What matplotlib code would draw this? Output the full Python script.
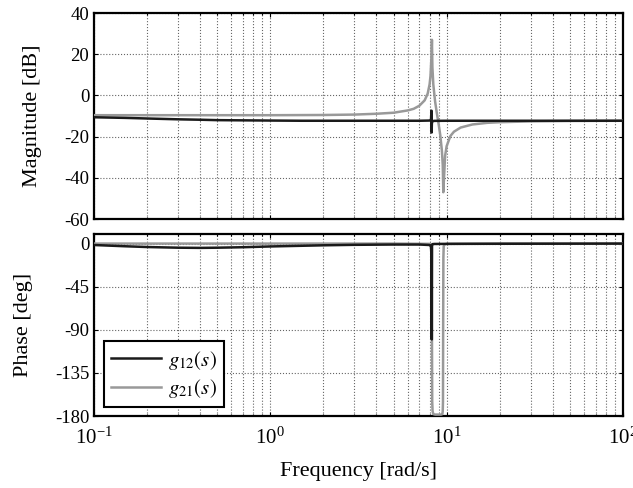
import matplotlib
matplotlib.use("Agg")
import matplotlib.pyplot as plt

# ---- data ----
# g12(s): magnitude [dB] and phase [deg]
g12_freq = [0.1, 0.15, 0.2, 0.3, 0.4, 0.5, 0.7, 1.0, 1.5, 2.0, 3.0, 5.0, 7.0, 8.0,
            8.15, 8.2, 8.22, 8.24, 8.26, 8.3, 8.5, 10.0, 20.0, 50.0, 100.0]
g12_mag = [-10.6, -10.9, -11.2, -11.6, -11.8, -12.0, -12.1, -12.2, -12.3, -12.3, -12.3,
           -12.3, -12.3, -12.2, -11.8, -7.4, -18.0, -14.0, -12.8, -12.5, -12.35,
           -12.3, -12.3, -12.3, -12.3]
g12_phase = [-1.5, -2.8, -3.6, -4.3, -4.5, -4.3, -3.8, -3.0, -2.3, -1.8, -1.3, -1.0,
             -1.0, -1.5, -3.0, -12.0, -100.0, -100.0, -1.0, -0.6, -0.4, -0.3, -0.2,
             -0.1, 0.0]

# g21(s): magnitude [dB] and phase [deg]
g21_freq = [0.1, 0.5, 1.0, 2.0, 3.0, 4.0, 5.0, 6.0, 6.5, 7.0, 7.5, 7.8, 8.0, 8.1,
            8.2, 8.25, 8.3, 8.4, 8.6, 8.8, 9.0, 9.2, 9.4, 9.5, 9.57, 9.65, 9.8,
            10.0, 10.5, 11.0, 12.0, 14.0, 17.0, 20.0, 30.0, 50.0, 100.0]
g21_mag = [-9.6, -9.6, -9.6, -9.5, -9.3, -8.9, -8.4, -7.3, -6.5, -5.0, -2.4, 0.8,
           5.3, 9.6, 19.0, 27.0, 13.7, 5.3, -3.0, -8.7, -13.8, -19.3, -27.0, -33.7,
           -47.0, -40.7, -29.3, -24.6, -19.7, -17.6, -15.6, -14.1, -13.3, -13.0,
           -12.6, -12.4, -12.3]

g21_pfreq = [0.1, 1.0, 5.0, 8.0, 8.15, 8.22, 8.25, 8.28, 8.32, 8.4, 8.6, 9.3, 9.45,
             9.5, 9.53, 9.55, 9.58, 9.62, 9.7, 10.0, 20.0, 100.0]
g21_phase = [0.0, 0.0, 0.0, -0.3, -2.0, -20.0, -90.0, -165.0, -175.0, -178.0,
             -178.5, -178.5, -178.0, -175.0, -165.0, -90.0, -15.0, -3.0, -1.0,
             -0.3, 0.0, 0.0]

mag_ticks = [-60, -40, -20, 0, 20, 40]
phase_ticks = [-180, -135, -90, -45, 0]

plt.rcParams["font.family"] = ["Liberation Serif", "DejaVu Serif"]
plt.rcParams["mathtext.fontset"] = "stix"
plt.rcParams["axes.unicode_minus"] = False

BLACK = "#1a1a1a"
GRAY = "#999999"

fig = plt.figure(figsize=(6.33, 4.88), dpi=100)
ax1 = fig.add_axes([0.1485, 0.5512, 0.8357, 0.4221])
ax2 = fig.add_axes([0.1485, 0.1475, 0.8357, 0.3730])

ax1.semilogx(g21_freq, g21_mag, color=GRAY, lw=1.8, zorder=3)
ax1.semilogx(g12_freq, g12_mag, color=BLACK, lw=1.8, zorder=4)
ax2.semilogx(g12_freq, g12_phase, color=BLACK, lw=1.8, zorder=4, label=r"$g_{12}(s)$")
ax2.semilogx(g21_pfreq, g21_phase, color=GRAY, lw=1.8, zorder=3, label=r"$g_{21}(s)$")

for ax in (ax1, ax2):
    ax.set_xlim(0.1, 100)
    ax.grid(True, which="major", axis="both", linestyle=":", color="#666666", lw=0.8)
    ax.grid(True, which="minor", axis="x", linestyle=":", color="#666666", lw=0.8)
    ax.tick_params(which="both", direction="in", top=True, right=True,
                   labelsize=13.5, length=3, width=0.8)
    ax.tick_params(which="minor", length=1.5)
    for s in ax.spines.values():
        s.set_linewidth(1.6)

ax1.set_ylim(-60, 40)
ax1.set_yticks(mag_ticks)
ax1.tick_params(which="both", labelbottom=False)
ax1.set_ylabel("Magnitude [dB]", fontsize=16, labelpad=16)

ax2.set_ylim(-180, 10)
ax2.set_yticks(phase_ticks)
ax2.set_ylabel("Phase [deg]", fontsize=16, labelpad=16)
ax2.set_xlabel("Frequency [rad/s]", fontsize=16, labelpad=10)
ax2.tick_params(axis="x", pad=8, labelsize=15)

fig.align_ylabels([ax1, ax2])

leg = ax2.legend(loc="lower left", bbox_to_anchor=(0.019, 0.048), fontsize=15,
                 fancybox=False, edgecolor="black", framealpha=1,
                 handlelength=2.4, handletextpad=0.3, borderaxespad=0,
                 borderpad=0.35, labelspacing=0.25)
leg.get_frame().set_linewidth(1.5)

fig.savefig("out.png", dpi=100)
